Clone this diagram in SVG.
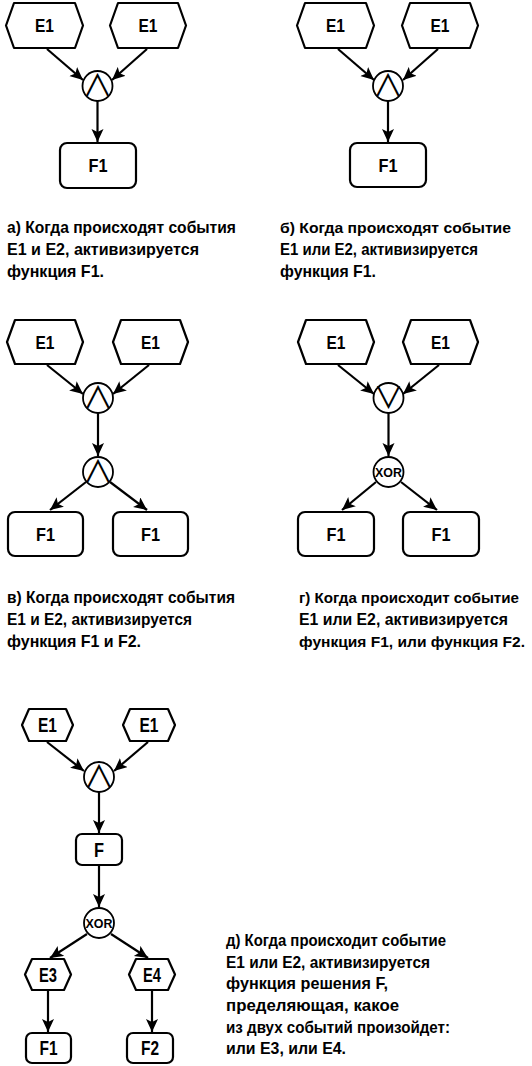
<svg xmlns="http://www.w3.org/2000/svg" width="532" height="1066" viewBox="0 0 532 1066">
<defs>
<marker id="ah" markerUnits="userSpaceOnUse" markerWidth="15" markerHeight="13" refX="13" refY="6" orient="auto">
<path d="M0,0 L13,6 L0,12 L3,6 Z" fill="#000"/>
</marker>
<style>
.shape{fill:#fff;stroke:#000;stroke-width:2.2;stroke-linejoin:round}
.gate{fill:#fff;stroke:#000;stroke-width:1.8}
.conn{fill:none;stroke:#000;stroke-width:2.2;marker-end:url(#ah)}
.lbl{font-family:"Liberation Sans",Arial,sans-serif;font-weight:bold;font-size:18px;text-anchor:middle;fill:#000}
.lbl2{font-family:"Liberation Sans",Arial,sans-serif;font-weight:bold;font-size:20px;text-anchor:middle;fill:#000}
.op{font-family:"Noto Sans CJK JP","DejaVu Sans",sans-serif;font-size:30px;text-anchor:middle;fill:#000}
.xor{font-family:"Liberation Sans",Arial,sans-serif;font-weight:bold;font-size:13px;text-anchor:middle;fill:#000}
.cap{font-family:"Liberation Sans",Arial,sans-serif;font-weight:bold;font-size:16.5px;fill:#000}
.capS{font-size:15px}
</style>
</defs>
<rect width="532" height="1066" fill="#fff"/>

<g id="connectors">
<line class="conn" x1="47" y1="49" x2="83" y2="80"/>
<line class="conn" x1="147" y1="49" x2="112" y2="80"/>
<line class="conn" x1="97.5" y1="101" x2="97.5" y2="142"/>
<line class="conn" x1="338" y1="49" x2="374" y2="80"/>
<line class="conn" x1="438" y1="49" x2="403" y2="80"/>
<line class="conn" x1="388" y1="101" x2="388" y2="142"/>
<line class="conn" x1="47" y1="365" x2="83" y2="394"/>
<line class="conn" x1="149" y1="365" x2="113" y2="394"/>
<line class="conn" x1="98" y1="413" x2="98" y2="456"/>
<line class="conn" x1="86" y1="482" x2="50" y2="510"/>
<line class="conn" x1="110" y1="482" x2="147" y2="510"/>
<line class="conn" x1="338" y1="365" x2="374" y2="394"/>
<line class="conn" x1="439" y1="365" x2="403" y2="394"/>
<line class="conn" x1="388.5" y1="413" x2="388.5" y2="456"/>
<line class="conn" x1="376" y1="482" x2="342" y2="510"/>
<line class="conn" x1="401" y1="482" x2="437" y2="510"/>
<line class="conn" x1="47" y1="742" x2="84" y2="771"/>
<line class="conn" x1="148" y1="742" x2="114" y2="771"/>
<line class="conn" x1="99" y1="792" x2="99" y2="833"/>
<line class="conn" x1="99" y1="865" x2="99" y2="907"/>
<line class="conn" x1="87" y1="934" x2="50" y2="958"/>
<line class="conn" x1="111" y1="934" x2="148" y2="958"/>
<line class="conn" x1="48" y1="990" x2="48" y2="1032"/>
<line class="conn" x1="152" y1="990" x2="152" y2="1032"/>
</g>

<g id="a-e1-left"><polygon class="shape" points="6,25.5 14,3 75,3 83,25.5 75,48 14,48"/><text class="lbl" x="44.5" y="32" textLength="19" lengthAdjust="spacingAndGlyphs">E1</text></g>
<g id="a-e1-right"><polygon class="shape" points="110,25.5 118,3 178,3 186,25.5 178,48 118,48"/><text class="lbl" x="148" y="32" textLength="19" lengthAdjust="spacingAndGlyphs">E1</text></g>
<g id="a-and"><circle class="gate" cx="97.5" cy="86" r="15"/><text class="op" x="97.5" y="96">∧</text></g>
<g id="a-f1"><rect class="shape" x="60" y="143" width="76" height="45" rx="7"/><text class="lbl" x="98" y="172" textLength="19" lengthAdjust="spacingAndGlyphs">F1</text></g>

<g id="b-e1-left"><polygon class="shape" points="297,25.5 305,3 366,3 374,25.5 366,48 305,48"/><text class="lbl" x="335.5" y="32" textLength="19" lengthAdjust="spacingAndGlyphs">E1</text></g>
<g id="b-e1-right"><polygon class="shape" points="402,25.5 410,3 470,3 478,25.5 470,48 410,48"/><text class="lbl" x="440" y="32" textLength="19" lengthAdjust="spacingAndGlyphs">E1</text></g>
<g id="b-and"><circle class="gate" cx="388" cy="86" r="15"/><text class="op" x="388" y="96">∧</text></g>
<g id="b-f1"><rect class="shape" x="350" y="143" width="76" height="44" rx="7"/><text class="lbl" x="388" y="171.5" textLength="19" lengthAdjust="spacingAndGlyphs">F1</text></g>

<g id="c-e1-left"><polygon class="shape" points="7,342 15,320 75,320 83,342 75,364 15,364"/><text class="lbl" x="45" y="348.5" textLength="19" lengthAdjust="spacingAndGlyphs">E1</text></g>
<g id="c-e1-right"><polygon class="shape" points="113,342 121,320 180,320 188,342 180,364 121,364"/><text class="lbl" x="150.5" y="348.5" textLength="19" lengthAdjust="spacingAndGlyphs">E1</text></g>
<g id="c-and1"><circle class="gate" cx="98" cy="398" r="15"/><text class="op" x="98" y="408">∧</text></g>
<g id="c-and2"><circle class="gate" cx="98" cy="472" r="15"/><text class="op" x="98" y="482">∧</text></g>
<g id="c-f1-left"><rect class="shape" x="8" y="512" width="75" height="44" rx="7"/><text class="lbl" x="45.5" y="540.5" textLength="19" lengthAdjust="spacingAndGlyphs">F1</text></g>
<g id="c-f1-right"><rect class="shape" x="113" y="512" width="75" height="44" rx="7"/><text class="lbl" x="150.5" y="540.5" textLength="19" lengthAdjust="spacingAndGlyphs">F1</text></g>

<g id="d-e1-left"><polygon class="shape" points="298,342 306,320 366,320 374,342 366,364 306,364"/><text class="lbl" x="336" y="348.5" textLength="19" lengthAdjust="spacingAndGlyphs">E1</text></g>
<g id="d-e1-right"><polygon class="shape" points="403,342 411,320 470,320 478,342 470,364 411,364"/><text class="lbl" x="440.5" y="348.5" textLength="19" lengthAdjust="spacingAndGlyphs">E1</text></g>
<g id="d-or"><circle class="gate" cx="388.5" cy="398" r="15"/><text class="op" x="388.5" y="408">∨</text></g>
<g id="d-xor"><circle class="gate" cx="388.5" cy="472" r="15"/><text class="xor" x="388.5" y="476.5" textLength="27" lengthAdjust="spacingAndGlyphs">XOR</text></g>
<g id="d-f1-left"><rect class="shape" x="298" y="512" width="76" height="44" rx="7"/><text class="lbl" x="336" y="540.5" textLength="19" lengthAdjust="spacingAndGlyphs">F1</text></g>
<g id="d-f1-right"><rect class="shape" x="403" y="512" width="76" height="44" rx="7"/><text class="lbl" x="441" y="540.5" textLength="19" lengthAdjust="spacingAndGlyphs">F1</text></g>

<g id="e-e1-left"><polygon class="shape" points="22,725 29,709 66,709 73,725 66,741 29,741"/><text class="lbl2" x="47.5" y="732" textLength="19" lengthAdjust="spacingAndGlyphs">E1</text></g>
<g id="e-e1-right"><polygon class="shape" points="123,725 130,709 168,709 175,725 168,741 130,741"/><text class="lbl2" x="149" y="732" textLength="19" lengthAdjust="spacingAndGlyphs">E1</text></g>
<g id="e-and"><circle class="gate" cx="99" cy="777" r="15"/><text class="op" x="99" y="787">∧</text></g>
<g id="e-f"><rect class="shape" x="76" y="834" width="46" height="31" rx="6"/><text class="lbl2" x="99" y="857" textLength="10" lengthAdjust="spacingAndGlyphs">F</text></g>
<g id="e-xor"><circle class="gate" cx="99" cy="923" r="15"/><text class="xor" x="99" y="927.5" textLength="27" lengthAdjust="spacingAndGlyphs">XOR</text></g>
<g id="e-e3"><polygon class="shape" points="25,974.5 32,959 64,959 71,974.5 64,990 32,990"/><text class="lbl2" x="48" y="981.5" textLength="18" lengthAdjust="spacingAndGlyphs">E3</text></g>
<g id="e-e4"><polygon class="shape" points="129,974.5 136,959 168,959 175,974.5 168,990 136,990"/><text class="lbl2" x="152" y="981.5" textLength="18" lengthAdjust="spacingAndGlyphs">E4</text></g>
<g id="e-f1"><rect class="shape" x="26" y="1033" width="45" height="30" rx="6"/><text class="lbl2" x="48.5" y="1055" textLength="18" lengthAdjust="spacingAndGlyphs">F1</text></g>
<g id="e-f2"><rect class="shape" x="127" y="1033" width="46" height="30" rx="6"/><text class="lbl2" x="150" y="1055" textLength="18" lengthAdjust="spacingAndGlyphs">F2</text></g>

<g id="caption-a">
<text class="cap" x="7" y="233" textLength="229" lengthAdjust="spacingAndGlyphs">а) Когда происходят события</text>
<text class="cap" x="7" y="255" textLength="192" lengthAdjust="spacingAndGlyphs">E1 и E2, активизируется</text>
<text class="cap" x="7" y="277" textLength="97" lengthAdjust="spacingAndGlyphs">функция F1.</text>
</g>
<g id="caption-b">
<text class="cap capS" x="280" y="233" textLength="231" lengthAdjust="spacingAndGlyphs">б) Когда происходят событие</text>
<text class="cap" x="280" y="255" textLength="198" lengthAdjust="spacingAndGlyphs">E1 или E2, активизируется</text>
<text class="cap" x="280" y="277" textLength="96" lengthAdjust="spacingAndGlyphs">функция F1.</text>
</g>
<g id="caption-c">
<text class="cap" x="7" y="603" textLength="228" lengthAdjust="spacingAndGlyphs">в) Когда происходят события</text>
<text class="cap" x="7" y="625" textLength="185" lengthAdjust="spacingAndGlyphs">E1 и E2, активизируется</text>
<text class="cap" x="7" y="647" textLength="134" lengthAdjust="spacingAndGlyphs">функция F1 и F2.</text>
</g>
<g id="caption-d">
<text class="cap capS" x="299" y="603" textLength="220" lengthAdjust="spacingAndGlyphs">г) Когда происходит событие</text>
<text class="cap" x="299" y="625" textLength="209" lengthAdjust="spacingAndGlyphs">E1 или E2, активизируется</text>
<text class="cap capS" x="299" y="647" textLength="226" lengthAdjust="spacingAndGlyphs">функция F1, или функция F2.</text>
</g>
<g id="caption-e">
<text class="cap" x="226" y="946" textLength="220" lengthAdjust="spacingAndGlyphs">д) Когда происходит событие</text>
<text class="cap" x="226" y="968" textLength="204" lengthAdjust="spacingAndGlyphs">E1 или E2, активизируется</text>
<text class="cap" x="226" y="989" textLength="162" lengthAdjust="spacingAndGlyphs">функция решения F,</text>
<text class="cap" x="226" y="1011" textLength="173" lengthAdjust="spacingAndGlyphs">пределяющая, какое</text>
<text class="cap" x="226" y="1033" textLength="224" lengthAdjust="spacingAndGlyphs">из двух событий произойдет:</text>
<text class="cap" x="226" y="1054" textLength="120" lengthAdjust="spacingAndGlyphs">или E3, или E4.</text>
</g>
</svg>
